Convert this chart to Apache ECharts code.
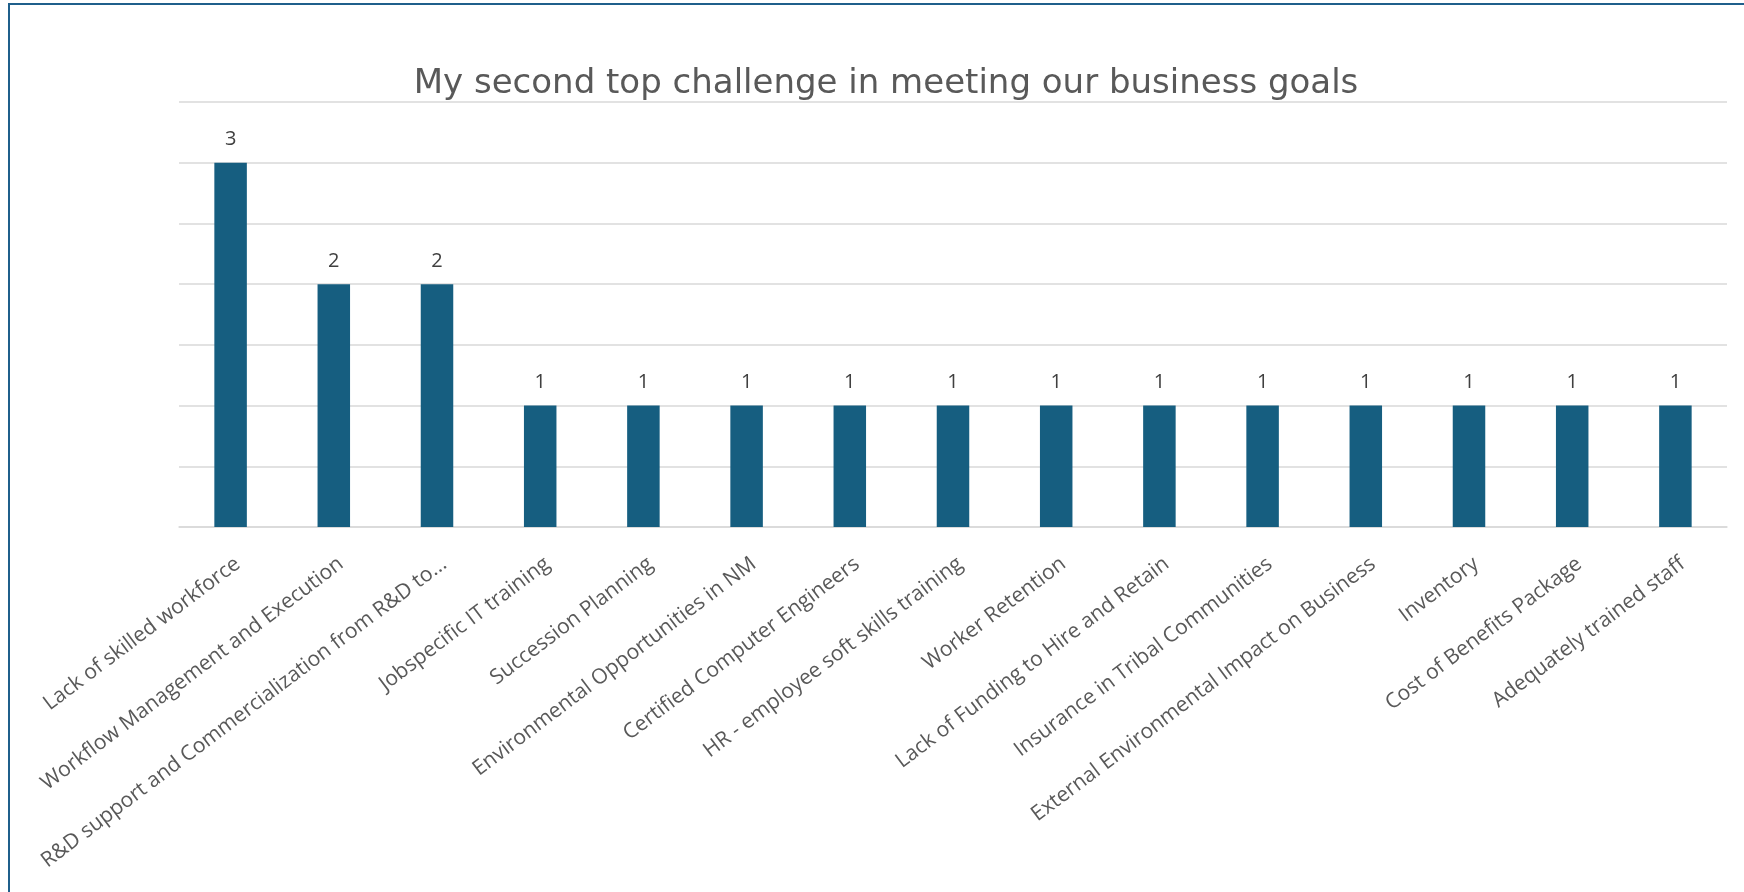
<!DOCTYPE html>
<html>
<head>
<meta charset="utf-8">
<script src="https://cdn.jsdelivr.net/npm/echarts@6/dist/echarts.min.js"></script>
<style>
  html, body { margin: 0; padding: 0; background: #ffffff; }
  #wrap { position: relative; width: 1744px; height: 892px; overflow: hidden; background: #fff; }
  #frame { position: absolute; left: 8px; top: 3px; width: 1760px; height: 920px; border: 2px solid #1f5f8b; box-sizing: border-box; }
  #chart { position: absolute; left: 0; top: 0; width: 1744px; height: 892px; }
</style>
</head>
<body>
<div id="wrap">
  <div id="frame"></div>
  <div id="chart"></div>
</div>
<script>
const chartTitle = "My second top challenge in meeting our business goals";
const categories = [
  "Lack of skilled workforce",
  "Workflow Management and Execution",
  "R&D support and Commercialization from R&D to...",
  "Jobspecific IT training",
  "Succession Planning",
  "Environmental Opportunities in NM",
  "Certified Computer Engineers",
  "HR - employee soft skills training",
  "Worker Retention",
  "Lack of Funding to Hire and Retain",
  "Insurance in Tribal Communities",
  "External Environmental Impact on Business",
  "Inventory",
  "Cost of Benefits Package",
  "Adequately trained staff"
];
const counts = [3, 2, 2, 1, 1, 1, 1, 1, 1, 1, 1, 1, 1, 1, 1];

const chart = echarts.init(document.getElementById('chart'), null, { renderer: 'canvas' });
chart.setOption({
  backgroundColor: 'transparent',
  animation: false,
  title: {
    text: chartTitle,
    left: 881,
    textAlign: 'center',
    top: 62,
    textStyle: { fontFamily: 'DejaVu Sans', fontSize: 34, fontWeight: 'normal', color: '#595959' }
  },
  grid: { left: 179, right: 17, top: 102, bottom: 365, containLabel: false, outerBoundsMode: 'none' },
  xAxis: {
    type: 'category',
    data: categories,
    axisLine: { lineStyle: { color: '#d9d9d9', width: 1.5 } },
    axisTick: { show: false },
    axisLabel: {
      interval: 0,
      rotate: 37,
      margin: 25,
      align: 'right',
      verticalAlign: 'top',
      lineHeight: 24,
      color: '#595959',
      fontFamily: 'Open Sans',
      fontSize: 21
    }
  },
  yAxis: {
    type: 'value',
    min: 0,
    max: 3.5,
    interval: 0.5,
    axisLabel: { show: false },
    axisLine: { show: false },
    axisTick: { show: false },
    splitLine: { lineStyle: { color: '#d9d9d9', width: 1.5 } }
  },
  series: [{
    type: 'bar',
    data: counts,
    barWidth: '31.5%',
    itemStyle: { color: '#165e80' },
    label: {
      show: true,
      position: 'top',
      distance: 13,
      color: '#404040',
      fontFamily: 'Open Sans',
      fontSize: 20
    }
  }]
});
</script>
</body>
</html>
